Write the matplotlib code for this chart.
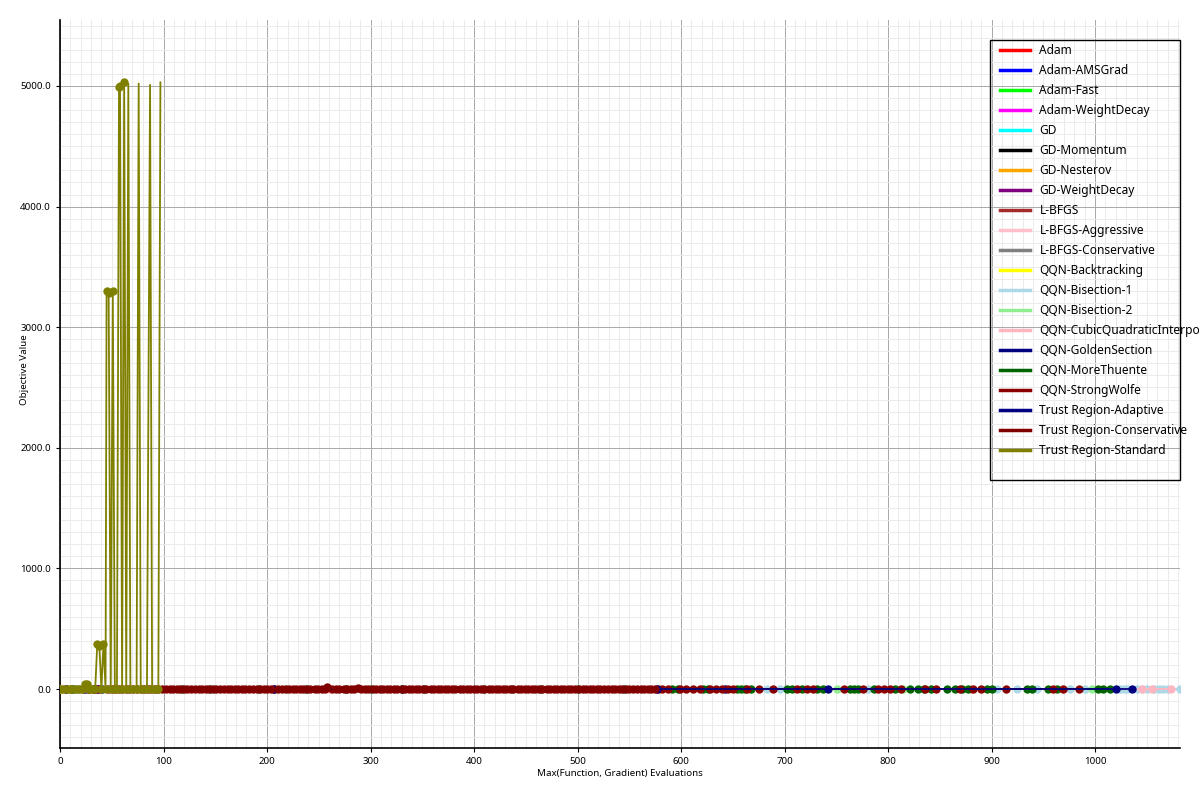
import matplotlib
matplotlib.use("Agg")
import matplotlib.pyplot as plt
from matplotlib.lines import Line2D
from matplotlib.patches import Rectangle
from matplotlib.ticker import MultipleLocator, FormatStrFormatter

plt.rcParams['font.family'] = ['Noto Sans', 'DejaVu Sans']

# ------------------------
# Data
# ------------------------
names = ["Adam", "Adam-AMSGrad", "Adam-Fast", "Adam-WeightDecay", "GD", "GD-Momentum",
         "GD-Nesterov", "GD-WeightDecay", "L-BFGS", "L-BFGS-Aggressive", "L-BFGS-Conservative",
         "QQN-Backtracking", "QQN-Bisection-1", "QQN-Bisection-2",
         "QQN-CubicQuadraticInterpolation", "QQN-GoldenSection", "QQN-MoreThuente",
         "QQN-StrongWolfe", "Trust Region-Adaptive", "Trust Region-Conservative",
         "Trust Region-Standard"]
colors = ["#ff0000", "#0000ff", "#00ff00", "#ff00ff", "#00ffff", "#000000",
          "#ffa500", "#800080", "#a52a2a", "#ffc0cb", "#808080",
          "#ffff00", "#add8e6", "#90ee90",
          "#ffb6c1", "#000080", "#006400",
          "#8b0000", "#000080", "#800000",
          "#808000"]

adam_x = [0, 8, 16, 24, 32]
adam_y = [0, 0, 0, 0, 0]
amsgrad_x = [0, 9, 18, 27, 36]
amsgrad_y = [0, 0, 0, 0, 0]
adamfast_x = [0, 7, 14, 21, 28]
adamfast_y = [0, 0, 0, 0, 0]
adamwd_x = [0, 10, 20, 30]
adamwd_y = [0, 0, 0, 0]
gd_x = [0, 6, 12, 18, 24, 30]
gd_y = [0, 0, 0, 0, 0, 0]
gdmom_x = [0, 11, 22, 33]
gdmom_y = [0, 0, 0, 0]
gdnest_x = [0, 9, 19, 29]
gdnest_y = [0, 0, 0, 0]
gdwd_x = [0, 12, 24, 36]
gdwd_y = [0, 0, 0, 0]
lbfgs_x = [0, 5, 10, 15, 20]
lbfgs_y = [0, 0, 0, 0, 0]
lbfgs_agg_x = [0, 4, 8, 13, 17]
lbfgs_agg_y = [0, 0, 0, 0, 0]
lbfgs_cons_x = [0, 6, 13, 19, 26]
lbfgs_cons_y = [0, 0, 0, 0, 0]
qqn_bt_x = [0, 10, 20, 29]
qqn_bt_y = [0, 0, 0, 0]
qqn_bis1_x = [20, 150, 310, 460, 683, 696, 781, 905, 925, 944, 976, 990, 1024, 1028,
              1031, 1040, 1045, 1050, 1057, 1062, 1066, 1070, 1082]
qqn_bis1_y = [0, 0, 0, 0, 0, 0, 0, 0, 0, 0, 0, 0, 0, 0,
              0, 0, 0, 0, 0, 0, 0, 0, 0]
qqn_bis2_x = [15, 217, 751, 814, 997]
qqn_bis2_y = [0, 0, 0, 0, 0]
qqn_cubic_x = [8, 260, 520, 880, 1045, 1055, 1073]
qqn_cubic_y = [0, 0, 0, 0, 0, 0, 0]
qqn_golden_x = [6, 330, 642]
qqn_golden_y = [0, 0, 0]
qqn_more_x = [12, 118, 145, 192, 238, 276, 300, 330, 352, 410, 437, 465, 500, 545,
              591, 597, 621, 626, 654, 658, 662, 668, 702, 707, 717, 731, 737, 763,
              767, 771, 786, 807, 821, 829, 835, 841, 857, 865, 871, 877, 896, 900,
              934, 939, 954, 963, 1003, 1008, 1014]
qqn_more_y = [0, 0, 0, 0, 0, 0, 0, 0, 0, 0, 0, 0, 0, 0,
              0, 0, 0, 0, 0, 0, 0, 0, 0, 0, 0, 0, 0, 0,
              0, 0, 0, 0, 0, 0, 0, 0, 0, 0, 0, 0, 0, 0,
              0, 0, 0, 0, 0, 0, 0]
qqn_strong_x = [46, 53, 60, 67, 74, 81, 88, 95, 102, 109, 116, 123, 130, 137, 144,
                151, 158, 165, 172, 179, 186, 193, 200, 207, 214, 221, 228, 235, 242,
                249, 256, 263, 270, 277, 284, 291, 298, 305, 312, 319, 326, 333, 340,
                347, 354, 361, 368, 375, 382, 389, 396, 403, 410, 417, 424, 431, 438,
                445, 452, 459, 466, 473, 480, 487, 494, 501, 508, 515, 522, 529, 536,
                543, 550, 557, 564, 571, 578,
                582, 587, 599, 605, 612, 618, 628, 634, 640, 645, 650, 664, 675, 689,
                712, 722, 727, 757, 776, 790, 796, 802, 812, 836, 846, 869, 882, 890,
                914, 959, 969, 984]
qqn_strong_y = [0, 0, 0, 0, 0, 0, 0, 0, 0, 0, 0, 0, 0, 0, 0,
                0, 0, 0, 0, 0, 0, 0, 0, 0, 0, 0, 0, 0, 0,
                0, 0, 0, 0, 0, 0, 0, 0, 0, 0, 0, 0, 0, 0,
                0, 0, 0, 0, 0, 0, 0, 0, 0, 0, 0, 0, 0, 0,
                0, 0, 0, 0, 0, 0, 0, 0, 0, 0, 0, 0, 0, 0,
                0, 0, 0, 0, 0, 0,
                0, 0, 0, 0, 0, 0, 0, 0, 0, 0, 0, 0, 0, 0,
                0, 0, 0, 0, 0, 0, 0, 0, 0, 0, 0, 0, 0, 0,
                0, 0, 0, 0]
tr_adapt_x = [41, 207, 577, 742, 1020, 1036]
tr_adapt_y = [0, 0, 0, 0, 0, 0]
tr_cons_x = [28, 38, 50, 57, 64, 71, 78, 85, 92, 99, 106, 113, 120, 127, 134, 141,
             148, 155, 162, 169, 176, 183, 190, 197, 204, 211, 218, 225, 232, 239,
             246, 253, 258, 267, 274, 281, 288, 295, 302, 309, 316, 323, 330, 337,
             344, 351, 358, 365, 372, 379, 386, 393, 400, 407, 414, 421, 428, 435,
             442, 449, 456, 463, 470, 477, 484, 491, 498, 505, 512, 519, 526, 533,
             540, 547, 554, 561, 568, 575]
tr_cons_y = [0, 0, 0, 0, 0, 0, 0, 0, 0, 0, 0, 0, 0, 0, 0, 0,
             0, 0, 0, 0, 0, 0, 0, 0, 0, 0, 0, 0, 0, 0,
             0, 0, 15, 0, 0, 0, 12, 0, 0, 0, 0, 0, 0, 0,
             0, 0, 0, 0, 0, 0, 0, 0, 0, 0, 0, 0, 0, 0,
             0, 0, 0, 0, 0, 0, 0, 0, 0, 0, 0, 0, 0, 0,
             0, 0, 0, 0, 0, 0]
tr_std_x = [0, 3, 6, 9, 12, 15, 18, 21, 24, 26, 28, 31, 34, 36, 38, 40, 42, 44,
            45, 47, 49, 51, 53, 55, 57, 58, 60, 62, 64, 66, 68, 71, 74, 76, 78,
            81, 84, 87, 89, 92, 95, 97]
tr_std_y = [0, 0, 0, 0, 0, 0, 0, 0, 45, 40, 0, 0, 0, 370, 360, 0, 375, 0,
            3300, 3280, 0, 3300, 0, 0, 4990, 5000, 0, 5030, 0, 5020, 0, 0, 0, 5020, 0,
            0, 0, 5010, 0, 0, 0, 5030]
# points of Trust Region-Standard that carry no marker (bare spike tips)
tr_std_nomark = [29, 33, 37, 41]

series_x = [adam_x, amsgrad_x, adamfast_x, adamwd_x, gd_x, gdmom_x, gdnest_x, gdwd_x,
            lbfgs_x, lbfgs_agg_x, lbfgs_cons_x, qqn_bt_x, qqn_bis1_x, qqn_bis2_x,
            qqn_cubic_x, qqn_golden_x, qqn_more_x, qqn_strong_x, tr_adapt_x,
            tr_cons_x, tr_std_x]
series_y = [adam_y, amsgrad_y, adamfast_y, adamwd_y, gd_y, gdmom_y, gdnest_y, gdwd_y,
            lbfgs_y, lbfgs_agg_y, lbfgs_cons_y, qqn_bt_y, qqn_bis1_y, qqn_bis2_y,
            qqn_cubic_y, qqn_golden_y, qqn_more_y, qqn_strong_y, tr_adapt_y,
            tr_cons_y, tr_std_y]

fig = plt.figure(figsize=(12, 8), dpi=100)
ax = fig.add_axes([60 / 1200, 52 / 800, 1120 / 1200, 728 / 800])

for i, (xs, ys, c) in enumerate(zip(series_x, series_y, colors)):
    if names[i] == "Trust Region-Standard":
        mark = [k for k in range(len(xs)) if k not in tr_std_nomark]
    else:
        mark = None
    ax.plot(xs, ys, color=c, lw=1.3, marker='o', markersize=6,
            markeredgewidth=0, markevery=mark, zorder=3 + i * 0.01)

ax.set_xlim(0, 1082)
ax.set_ylim(-489, 5547)
ax.xaxis.set_major_locator(MultipleLocator(100))
ax.xaxis.set_minor_locator(MultipleLocator(10))
ax.yaxis.set_major_locator(MultipleLocator(1000))
ax.yaxis.set_minor_locator(MultipleLocator(100))
ax.yaxis.set_major_formatter(FormatStrFormatter('%.1f'))
ax.grid(which='major', color='#a8a8a8', lw=0.7)
ax.grid(which='minor', color='#ebebeb', lw=0.7)
ax.set_axisbelow(True)
for s in ['top', 'right']:
    ax.spines[s].set_visible(False)
ax.spines['left'].set_linewidth(1.2)
ax.spines['bottom'].set_linewidth(1.2)
ax.tick_params(which='major', length=3, labelsize=7)
ax.tick_params(which='minor', length=0)
ax.set_xlabel("Max(Function, Gradient) Evaluations", fontsize=7, labelpad=2)
ax.set_ylabel("Objective Value", fontsize=7)
ax.yaxis.set_label_coords(-0.0275, 0.52)

# Legend (fixed-size box, text may run past it)
handles = [Line2D([0], [0], color=c, lw=2.5) for c in colors]
fig.legend(handles, names, loc='upper left', bbox_to_anchor=(1000 / 1200, 1 - 44 / 800),
           frameon=False, fontsize=8.6, handlelength=2.5, handletextpad=0.8,
           labelspacing=0.585, borderpad=0, borderaxespad=0)
fig.patches.append(Rectangle((990 / 1200, 1 - 480 / 800), 190 / 1200, 440 / 800,
                             transform=fig.transFigure, fill=False,
                             edgecolor='black', lw=1))

plt.savefig("out.png", dpi=100)
